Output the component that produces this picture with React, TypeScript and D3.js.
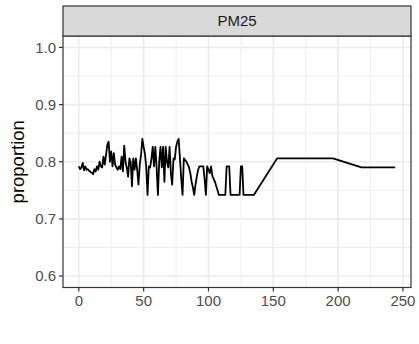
import { useRef, useEffect } from "react";
import * as d3 from "d3";

// daily proportion values, index = day
const dailyProportion = [
  0.792, 0.787, 0.79, 0.798, 0.785, 0.792, 0.786, 0.787, 0.784, 0.782,
  0.781, 0.778, 0.787, 0.783, 0.792, 0.786, 0.8, 0.792, 0.79, 0.809,
  0.795, 0.812, 0.83, 0.835, 0.8, 0.818, 0.792, 0.815, 0.795, 0.79,
  0.786, 0.792, 0.787, 0.809, 0.783, 0.828, 0.8, 0.79, 0.774, 0.806,
  0.8, 0.757, 0.806, 0.786, 0.806, 0.786, 0.76, 0.795, 0.812, 0.84,
  0.826, 0.814, 0.79, 0.742, 0.792, 0.79, 0.805, 0.826, 0.792, 0.826,
  0.79, 0.742, 0.8, 0.826, 0.79, 0.826, 0.765, 0.826, 0.8, 0.79,
  0.826, 0.78, 0.76, 0.806, 0.804, 0.826, 0.835, 0.84, 0.806, 0.77,
  0.742, 0.806, 0.803, 0.8, 0.795, 0.79, 0.78, 0.765, 0.755, 0.742,
  0.76, 0.774, 0.786, 0.792, 0.792, 0.792, 0.792, 0.77, 0.742, 0.792,
  0.786, 0.78, 0.792, 0.775, 0.77, 0.765, 0.757, 0.75, 0.742, 0.742,
  0.742, 0.742, 0.742, 0.742, 0.792, 0.792, 0.792, 0.742, 0.742, 0.742,
  0.742, 0.742, 0.742, 0.742, 0.742, 0.792, 0.792, 0.742, 0.742, 0.742,
  0.742, 0.742, 0.742, 0.742, 0.742, 0.742,
];
// sparse tail after day 135
const tailDays = [153, 196, 218, 244];
const tailProportion = [0.806, 0.806, 0.79, 0.79];

const xTicks = [0, 50, 100, 150, 200, 250];
const xMinor = [25, 75, 125, 175, 225];
const yTicks = [0.6, 0.7, 0.8, 0.9, 1.0];
const yMinor = [0.65, 0.75, 0.85, 0.95];
const stripLabel = "PM25";
const yTitle = "proportion";

const W = 419;
const H = 344;
const FONT = "'Liberation Sans', Arial, Helvetica, sans-serif";

export default function App() {
  const svgRef = useRef<SVGSVGElement>(null);

  useEffect(() => {
    const svg = d3.select(svgRef.current);
    svg.selectAll("*").remove();

    const left = 63, right = 411, top = 36, bottom = 287.5;
    const stripTop = 6;

    const points: [number, number][] = dailyProportion.map((v, i) => [i, v] as [number, number]);
    tailDays.forEach((d, i) => points.push([d, tailProportion[i]]));

    const xMin = 0, xMax = 244;
    const xPad = (xMax - xMin) * 0.05;
    const x = d3.scaleLinear().domain([xMin - xPad, xMax + xPad]).range([left, right]);
    const yPad = 0.4 * 0.05;
    const y = d3.scaleLinear().domain([0.6 - yPad, 1.0 + yPad]).range([bottom, top]);

    // panel background
    svg.append("rect")
      .attr("x", left).attr("y", top)
      .attr("width", right - left).attr("height", bottom - top)
      .attr("fill", "#fff");

    const grid = svg.append("g");
    xMinor.forEach(t => {
      grid.append("line")
        .attr("x1", x(t)).attr("x2", x(t)).attr("y1", top).attr("y2", bottom)
        .attr("stroke", "#EBEBEB").attr("stroke-width", 0.8);
    });
    yMinor.forEach(t => {
      grid.append("line")
        .attr("x1", left).attr("x2", right).attr("y1", y(t)).attr("y2", y(t))
        .attr("stroke", "#EBEBEB").attr("stroke-width", 0.8);
    });
    xTicks.forEach(t => {
      grid.append("line")
        .attr("x1", x(t)).attr("x2", x(t)).attr("y1", top).attr("y2", bottom)
        .attr("stroke", "#EBEBEB").attr("stroke-width", 1.6);
    });
    yTicks.forEach(t => {
      grid.append("line")
        .attr("x1", left).attr("x2", right).attr("y1", y(t)).attr("y2", y(t))
        .attr("stroke", "#EBEBEB").attr("stroke-width", 1.6);
    });

    // data line
    const line = d3.line<[number, number]>()
      .x(d => x(d[0]))
      .y(d => y(d[1]));

    svg.append("path")
      .datum(points)
      .attr("d", line)
      .attr("fill", "none")
      .attr("stroke", "#000")
      .attr("stroke-width", 1.8)
      .attr("stroke-linejoin", "round");

    // panel border
    svg.append("rect")
      .attr("x", left).attr("y", top)
      .attr("width", right - left).attr("height", bottom - top)
      .attr("fill", "none").attr("stroke", "#333").attr("stroke-width", 1.2);

    // strip
    svg.append("rect")
      .attr("x", left).attr("y", stripTop)
      .attr("width", right - left).attr("height", top - stripTop)
      .attr("fill", "#D9D9D9").attr("stroke", "#333").attr("stroke-width", 1.2);
    svg.append("text")
      .attr("x", (left + right) / 2).attr("y", (stripTop + top) / 2)
      .attr("dy", "0.36em")
      .attr("text-anchor", "middle")
      .attr("font-family", FONT).attr("font-size", 15)
      .attr("fill", "#1A1A1A")
      .text(stripLabel);

    // x axis
    const xa = svg.append("g");
    xTicks.forEach(t => {
      xa.append("line")
        .attr("x1", x(t)).attr("x2", x(t)).attr("y1", bottom).attr("y2", bottom + 4)
        .attr("stroke", "#333").attr("stroke-width", 1.2);
      xa.append("text")
        .attr("x", x(t)).attr("y", bottom + 6).attr("dy", "0.8em")
        .attr("text-anchor", "middle")
        .attr("font-family", FONT).attr("font-size", 15)
        .attr("fill", "#4D4D4D")
        .text(String(t));
    });

    // y axis
    const ya = svg.append("g");
    yTicks.forEach(t => {
      ya.append("line")
        .attr("x1", left - 4).attr("x2", left).attr("y1", y(t)).attr("y2", y(t))
        .attr("stroke", "#333").attr("stroke-width", 1.2);
      ya.append("text")
        .attr("x", left - 7).attr("y", y(t)).attr("dy", "0.36em")
        .attr("text-anchor", "end")
        .attr("font-family", FONT).attr("font-size", 15)
        .attr("fill", "#4D4D4D")
        .text(t.toFixed(1));
    });

    svg.append("text")
      .attr("transform", `translate(24,${(top + bottom) / 2}) rotate(-90)`)
      .attr("text-anchor", "middle")
      .attr("font-family", FONT).attr("font-size", 18.5)
      .attr("fill", "#000")
      .text(yTitle);
  }, []);

  return (
    <svg
      ref={svgRef}
      width={W}
      height={H}
      style={{ position: "absolute", left: 0, top: 0, background: "#fff", display: "block" }}
    />
  );
}
